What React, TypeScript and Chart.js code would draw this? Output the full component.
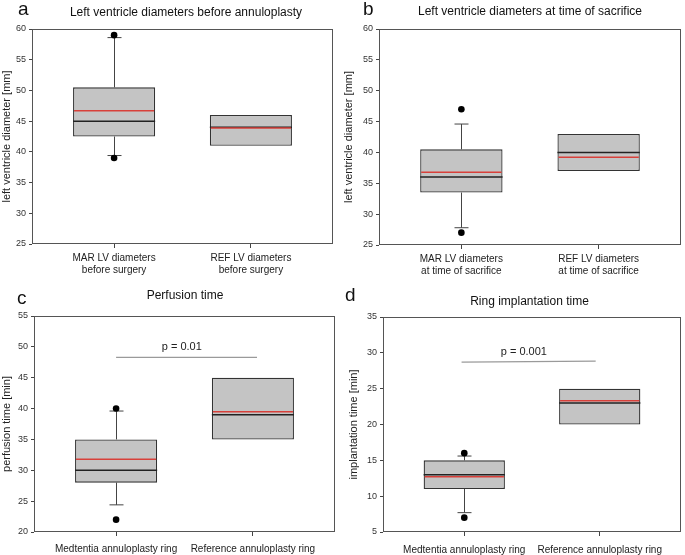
import React, { useEffect, useRef } from 'react';
import { Chart, registerables } from 'chart.js';

Chart.register(...registerables);
Chart.defaults.font.family = '"Liberation Sans", Arial, Helvetica, sans-serif';

// ---------- Panel a: Left ventricle diameters before annuloplasty ----------
const aCategories = [['MAR LV diameters', 'before surgery'], ['REF LV diameters', 'before surgery']];
const aQ1 = [42.5, 41];
const aQ3 = [50.5, 46];
const aMedian = [45, 44];
const aMean = [46.7, 43.9];
const aWhiskerLow = [39.4, null];
const aWhiskerHigh = [58.6, null];
const aOutliers = [[59, 39], []];
const aYTicks = [25, 60];

// ---------- Panel b: Left ventricle diameters at time of sacrifice ----------
const bCategories = [['MAR LV diameters', 'at time of sacrifice'], ['REF LV diameters', 'at time of sacrifice']];
const bQ1 = [33.5, 37];
const bQ3 = [40.5, 43];
const bMedian = [36, 40];
const bMean = [36.8, 39.2];
const bWhiskerLow = [27.8, null];
const bWhiskerHigh = [44.6, null];
const bOutliers = [[47, 27], []];
const bYTicks = [25, 60];

// ---------- Panel c: Perfusion time ----------
const cCategories = ['Medtentia annuloplasty ring', 'Reference annuloplasty ring'];
const cQ1 = [28, 35];
const cQ3 = [35, 45];
const cMedian = [30, 39];
const cMean = [31.8, 39.5];
const cWhiskerLow = [24.4, null];
const cWhiskerHigh = [39.6, null];
const cOutliers = [[40, 22], []];
const cYTicks = [20, 55];
const cPLabel = 'p = 0.01';
const cPLineX = [1.0, 2.03];
const cPLineY = [48.3, 48.3];
const cPTextPos = [1.48, 50];

// ---------- Panel d: Ring implantation time ----------
const dCategories = ['Medtentia annuloplasty ring', 'Reference annuloplasty ring'];
const dQ1 = [11, 20];
const dQ3 = [15, 25];
const dMedian = [13, 23];
const dMean = [12.7, 23.3];
const dWhiskerLow = [7.7, null];
const dWhiskerHigh = [15.6, null];
const dOutliers = [[16, 7], []];
const dYTicks = [5, 35];
const dPLabel = 'p = 0.001';
const dPLineX = [0.98, 1.97];
const dPLineY = [28.7, 28.85];
const dPTextPos = [1.44, 30.1];

type PanelData = {
  letter: string;
  title: string;
  yTitle: string;
  categories: (string | string[])[];
  q1: number[];
  q3: number[];
  median: number[];
  mean: number[];
  low: (number | null)[];
  high: (number | null)[];
  outliers: number[][];
  yRange: number[];
  pLabel?: string;
  pLineX?: number[];
  pLineY?: number[];
  pTextPos?: number[];
};

type PanelLayout = {
  left: number; top: number; w: number; h: number;
  yAxisW: number; xAxisH: number; padTop: number; padRight: number;
  letterX: number; letterY: number; titleX: number; titleY: number;
  yTitlePad: number; xTickPad: number;
};

const boxExtras = {
  id: 'boxExtras',
  beforeDatasetsDraw(chart: any) {
    const o = chart.options.plugins.boxExtras;
    const ctx = chart.ctx;
    const xs = chart.scales.x;
    const ys = chart.scales.y;
    ctx.save();
    ctx.strokeStyle = '#444';
    ctx.lineWidth = 1;
    o.low.forEach((lo: number | null, i: number) => {
      const x = Math.round(xs.getPixelForValue(i + 1)) + 0.5;
      const hi = o.high[i];
      if (hi != null) {
        const y0 = ys.getPixelForValue(o.q3[i]);
        const y1 = ys.getPixelForValue(hi);
        ctx.beginPath(); ctx.moveTo(x, y0); ctx.lineTo(x, y1);
        ctx.moveTo(x - 7, y1); ctx.lineTo(x + 7, y1); ctx.stroke();
      }
      if (lo != null) {
        const y0 = ys.getPixelForValue(o.q1[i]);
        const y1 = ys.getPixelForValue(lo);
        ctx.beginPath(); ctx.moveTo(x, y0); ctx.lineTo(x, y1);
        ctx.moveTo(x - 7, y1); ctx.lineTo(x + 7, y1); ctx.stroke();
      }
    });
    ctx.restore();
  },
  afterDatasetsDraw(chart: any) {
    const o = chart.options.plugins.boxExtras;
    const ctx = chart.ctx;
    const xs = chart.scales.x;
    const ys = chart.scales.y;
    const meta = chart.getDatasetMeta(1);
    ctx.save();
    meta.data.forEach((bar: any, i: number) => {
      const x0 = bar.x - bar.width / 2;
      const x1 = bar.x + bar.width / 2;
      ctx.lineWidth = 1.5;
      ctx.strokeStyle = '#222';
      const ym = ys.getPixelForValue(o.median[i]);
      ctx.beginPath(); ctx.moveTo(x0, ym); ctx.lineTo(x1, ym); ctx.stroke();
      ctx.strokeStyle = '#d8403a';
      const ya = ys.getPixelForValue(o.mean[i]);
      ctx.beginPath(); ctx.moveTo(x0 + 1, ya); ctx.lineTo(x1 - 1, ya); ctx.stroke();
    });
    if (o.pLabel) {
      ctx.strokeStyle = '#9a9a9a';
      ctx.lineWidth = 1.3;
      ctx.beginPath();
      ctx.moveTo(xs.getPixelForValue(o.pLineX[0]), ys.getPixelForValue(o.pLineY[0]));
      ctx.lineTo(xs.getPixelForValue(o.pLineX[1]), ys.getPixelForValue(o.pLineY[1]));
      ctx.stroke();
      ctx.fillStyle = '#222';
      ctx.font = '11px "Liberation Sans", Arial, sans-serif';
      ctx.textAlign = 'center';
      ctx.textBaseline = 'middle';
      ctx.fillText(o.pLabel, xs.getPixelForValue(o.pTextPos[0]), ys.getPixelForValue(o.pTextPos[1]));
    }
    const a = chart.chartArea;
    ctx.strokeStyle = '#555';
    ctx.lineWidth = 1;
    ctx.strokeRect(Math.round(a.left) + 0.5, Math.round(a.top) + 0.5,
      Math.round(a.right - a.left) - 1, Math.round(a.bottom - a.top) - 1);
    ctx.restore();
  },
};

const panelText = {
  id: 'panelText',
  afterDraw(chart: any) {
    const o = chart.options.plugins.panelText;
    const ctx = chart.ctx;
    ctx.save();
    ctx.fillStyle = '#111';
    ctx.font = '19px "Liberation Sans", Arial, sans-serif';
    ctx.textAlign = 'left';
    ctx.textBaseline = 'alphabetic';
    ctx.fillText(o.letter, o.letterX, o.letterY);
    ctx.font = '12px "Liberation Sans", Arial, sans-serif';
    ctx.textAlign = 'center';
    ctx.textBaseline = 'middle';
    ctx.fillText(o.title, o.titleX, o.titleY);
    ctx.restore();
  },
};

function Panel({ d, l }: { d: PanelData; l: PanelLayout }) {
  const ref = useRef<HTMLCanvasElement>(null);
  useEffect(() => {
    if (!ref.current) return;
    const outlierPts: { x: number; y: number }[] = [];
    d.outliers.forEach((arr, i) => arr.forEach((v) => outlierPts.push({ x: i + 1, y: v })));
    const chart = new Chart(ref.current, {
      type: 'bar',
      data: {
        datasets: [
          {
            type: 'scatter',
            data: outlierPts,
            pointRadius: 3.3,
            pointBackgroundColor: '#000',
            pointBorderColor: '#000',
            pointBorderWidth: 0,
          } as any,
          {
            type: 'bar',
            data: d.categories.map((_, i) => ({ x: i + 1, y: [d.q1[i], d.q3[i]] })),
            backgroundColor: '#c4c4c4',
            borderColor: '#333',
            borderWidth: 1.3,
            borderSkipped: false,
            barPercentage: 0.6,
            categoryPercentage: 1,
          } as any,
        ],
      },
      options: {
        animation: false,
        responsive: false,
        maintainAspectRatio: false,
        events: [],
        layout: { padding: { top: l.padTop, right: l.padRight, left: 0, bottom: 0 } },
        plugins: {
          legend: { display: false },
          tooltip: { enabled: false },
          boxExtras: {
            q1: d.q1, q3: d.q3, median: d.median, mean: d.mean, low: d.low, high: d.high,
            pLabel: d.pLabel, pLineX: d.pLineX, pLineY: d.pLineY, pTextPos: d.pTextPos,
          },
          panelText: {
            letter: d.letter, title: d.title, letterX: l.letterX, letterY: l.letterY,
            titleX: l.titleX, titleY: l.titleY,
          },
        } as any,
        scales: {
          x: {
            type: 'linear',
            min: 0.4,
            max: 2.6,
            offset: false,
            afterBuildTicks: (s: any) => { s.ticks = d.categories.map((_, i) => ({ value: i + 1 })); },
            ticks: {
              callback: (v: any) => d.categories[Math.round(v) - 1] ?? '',
              font: { size: 10 },
              color: '#222',
              padding: l.xTickPad,
              maxRotation: 0,
              autoSkip: false,
            },
            grid: { offset: false, drawOnChartArea: false, drawTicks: true, tickLength: 4, color: '#444' },
            border: { display: false },
            afterFit: (s: any) => { s.height = l.xAxisH; },
          },
          y: {
            type: 'linear',
            min: d.yRange[0],
            max: d.yRange[1],
            ticks: { stepSize: 5, font: { size: 9 }, color: '#333', padding: 3 },
            grid: { drawOnChartArea: false, drawTicks: true, tickLength: 3, color: '#444' },
            border: { display: false },
            title: {
              display: true,
              text: d.yTitle,
              font: { size: 11 },
              color: '#222',
              padding: { top: l.yTitlePad, bottom: 0 },
            },
            afterFit: (s: any) => { s.width = l.yAxisW; },
          },
        },
      } as any,
      plugins: [boxExtras, panelText],
    });
    return () => chart.destroy();
  }, []);
  return (
    <canvas
      ref={ref}
      width={l.w}
      height={l.h}
      style={{ position: 'absolute', left: l.left, top: l.top, width: l.w, height: l.h }}
    />
  );
}

const panelA: PanelData = {
  letter: 'a', title: 'Left ventricle diameters before annuloplasty', yTitle: 'left ventricle diameter [mm]',
  categories: aCategories, q1: aQ1, q3: aQ3, median: aMedian, mean: aMean,
  low: aWhiskerLow, high: aWhiskerHigh, outliers: aOutliers, yRange: aYTicks,
};
const panelB: PanelData = {
  letter: 'b', title: 'Left ventricle diameters at time of sacrifice', yTitle: 'left ventricle diameter [mm]',
  categories: bCategories, q1: bQ1, q3: bQ3, median: bMedian, mean: bMean,
  low: bWhiskerLow, high: bWhiskerHigh, outliers: bOutliers, yRange: bYTicks,
};
const panelC: PanelData = {
  letter: 'c', title: 'Perfusion time', yTitle: 'perfusion time [min]',
  categories: cCategories, q1: cQ1, q3: cQ3, median: cMedian, mean: cMean,
  low: cWhiskerLow, high: cWhiskerHigh, outliers: cOutliers, yRange: cYTicks,
  pLabel: cPLabel, pLineX: cPLineX, pLineY: cPLineY, pTextPos: cPTextPos,
};
const panelD: PanelData = {
  letter: 'd', title: 'Ring implantation time', yTitle: 'implantation time [min]',
  categories: dCategories, q1: dQ1, q3: dQ3, median: dMedian, mean: dMean,
  low: dWhiskerLow, high: dWhiskerHigh, outliers: dOutliers, yRange: dYTicks,
  pLabel: dPLabel, pLineX: dPLineX, pLineY: dPLineY, pTextPos: dPTextPos,
};

const layoutA: PanelLayout = { left: 0, top: 0, w: 342, h: 280, yAxisW: 32, xAxisH: 36, padTop: 29, padRight: 9,
  letterX: 18, letterY: 15, titleX: 186, titleY: 13, yTitlePad: 0, xTickPad: 4 };
const layoutB: PanelLayout = { left: 342, top: 0, w: 343, h: 280, yAxisW: 37, xAxisH: 35, padTop: 29, padRight: 4,
  letterX: 21, letterY: 15, titleX: 188, titleY: 12, yTitlePad: 0.5, xTickPad: 4 };
const layoutC: PanelLayout = { left: 0, top: 280, w: 342, h: 275, yAxisW: 34, xAxisH: 23, padTop: 36, padRight: 7,
  letterX: 17, letterY: 24, titleX: 185, titleY: 16, yTitlePad: 0, xTickPad: 7 };
const layoutD: PanelLayout = { left: 342, top: 280, w: 343, h: 275, yAxisW: 41, xAxisH: 23, padTop: 37, padRight: 2,
  letterX: 3, letterY: 21, titleX: 187.5, titleY: 22, yTitlePad: 5.5, xTickPad: 8 };

export default function App() {
  return (
    <div style={{ position: 'fixed', left: 0, top: 0, width: 685, height: 555, background: '#fff', overflow: 'hidden' }}>
      <Panel d={panelA} l={layoutA} />
      <Panel d={panelB} l={layoutB} />
      <Panel d={panelC} l={layoutC} />
      <Panel d={panelD} l={layoutD} />
    </div>
  );
}
